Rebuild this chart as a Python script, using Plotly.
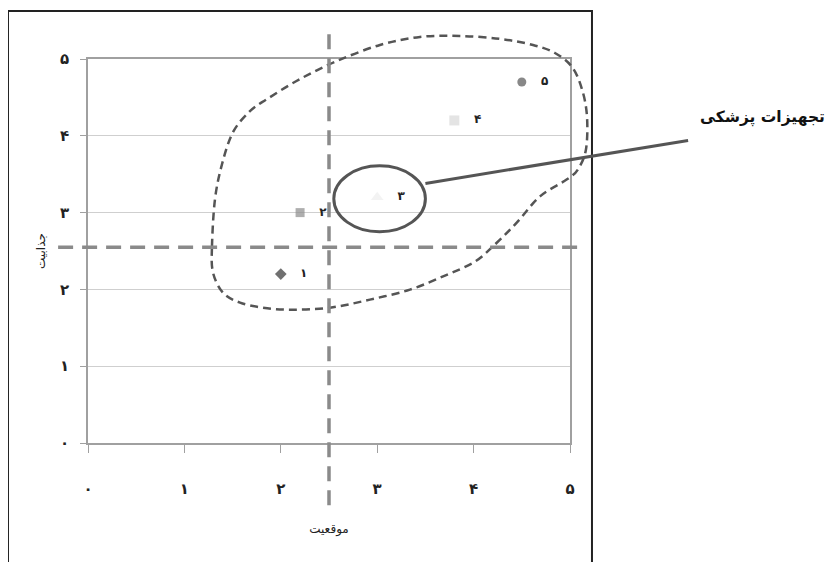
import plotly.graph_objects as go

# ---- data ----
labels = ["۱", "۲", "۳", "۴", "۵"]
pos_x = [2.0, 2.2, 3.0, 3.8, 4.5]          # موقعیت
attr_y = [2.2, 3.0, 3.2, 4.2, 4.7]         # جذابیت
marker_symbols = ["diamond", "square", "triangle-up", "square", "circle"]
marker_colors = ["#333333", "#8c8c8c", "#eeeeee", "#d9d9d9", "#555555"]
marker_sizes = [9, 9, 11, 10, 9]

tick_vals = [0, 1, 2, 3, 4, 5]
tick_text = ["۰", "۱", "۲", "۳", "۴", "۵"]

# cut-off lines (data units)
cut_x = 2.5
cut_y = 2.55

# outline of the attractive region (data units)
region_x = [1.286, 1.317, 1.390, 1.504, 1.680, 1.857, 2.199, 2.583, 3.029, 3.444,
            3.859, 4.274, 4.616, 4.844, 5.021, 5.124, 5.176, 5.166, 5.083, 4.969,
            4.689, 4.450, 4.243, 4.015, 3.703, 3.340, 2.925, 2.510, 2.095, 1.815,
            1.577, 1.400, 1.297]
region_y = [2.559, 3.172, 3.629, 4.047, 4.321, 4.478, 4.739, 4.974, 5.183, 5.287,
            5.300, 5.261, 5.183, 5.078, 4.896, 4.608, 4.256, 3.825, 3.564, 3.433,
            3.211, 2.872, 2.611, 2.363, 2.180, 1.997, 1.867, 1.762, 1.736, 1.762,
            1.828, 1.958, 2.219]

highlight_label = "تجهیزات پزشکی"
highlight_index = 2

XMAX, YMAX = 5.0, 5.0


def px(x):
    return x / XMAX


def py(y):
    return y / YMAX


def closed_spline_path(xs, ys):
    pts = [(px(a), py(b)) for a, b in zip(xs, ys)]
    n = len(pts)
    d = f"M {pts[0][0]:.4f},{pts[0][1]:.4f}"
    for i in range(n):
        p0 = pts[(i - 1) % n]
        p1 = pts[i]
        p2 = pts[(i + 1) % n]
        p3 = pts[(i + 2) % n]
        c1 = (p1[0] + (p2[0] - p0[0]) / 6, p1[1] + (p2[1] - p0[1]) / 6)
        c2 = (p2[0] - (p3[0] - p1[0]) / 6, p2[1] - (p3[1] - p1[1]) / 6)
        d += f" C {c1[0]:.4f},{c1[1]:.4f} {c2[0]:.4f},{c2[1]:.4f} {p2[0]:.4f},{p2[1]:.4f}"
    return d + " Z"


fig = go.Figure()

fig.add_trace(go.Scatter(
    x=pos_x, y=attr_y,
    mode="markers+text",
    text=["\u00a0\u00a0\u00a0" + t for t in labels],
    textposition="middle right",
    textfont=dict(family="DejaVu Sans", size=12, color="#222222", weight="bold"),
    marker=dict(symbol=marker_symbols, color=marker_colors, size=marker_sizes,
                line=dict(width=0)),
    cliponaxis=False,
    showlegend=False,
))

shapes = []
# outer frame
shapes.append(dict(type="rect", xref="paper", yref="paper",
                   x0=-0.166, x1=1.0456, y0=-0.4, y1=1.125,
                   line=dict(color="#222222", width=2), layer="below"))
# region outline
shapes.append(dict(type="path", xref="paper", yref="paper",
                   path=closed_spline_path(region_x, region_y),
                   line=dict(color="#555555", width=2.5, dash="8px,5px")))
# cut-off lines
shapes.append(dict(type="line", xref="paper", yref="paper",
                   x0=-0.062, x1=1.017, y0=py(cut_y), y1=py(cut_y),
                   line=dict(color="#8a8a8a", width=3.5, dash="15px,9px")))
shapes.append(dict(type="line", xref="paper", yref="paper",
                   x0=px(cut_x), x1=px(cut_x), y0=-0.162, y1=1.081,
                   line=dict(color="#8a8a8a", width=3.5, dash="15px,9px")))
# highlight ellipse around item 3
hx, hy = pos_x[highlight_index], attr_y[highlight_index]
shapes.append(dict(type="circle", xref="x", yref="y",
                   x0=hx - 0.45, x1=hx + 0.50, y0=hy - 0.45, y1=hy + 0.41,
                   line=dict(color="#555555", width=3)))
# leader line
shapes.append(dict(type="line", xref="paper", yref="paper",
                   x0=px(hx + 0.50), y0=py(hy + 0.18), x1=1.245, y1=0.788,
                   line=dict(color="#555555", width=3)))

fig.update_layout(
    width=835, height=562,
    margin=dict(l=80, r=273, t=51, b=127),
    paper_bgcolor="white", plot_bgcolor="white",
    shapes=shapes,
    annotations=[dict(xref="paper", yref="paper", x=1.40, y=0.847,
                      xanchor="center", yanchor="middle",
                      text=highlight_label, showarrow=False,
                      font=dict(family="DejaVu Sans", size=15.5, color="#111111", weight="bold"))],
    font=dict(family="DejaVu Sans", color="#222222"),
)

fig.update_xaxes(
    range=[0, XMAX], tickvals=tick_vals, ticktext=tick_text,
    showgrid=False, zeroline=False,
    showline=True, linecolor="#a0a0a0", linewidth=1.5, mirror=True,
    ticks="outside", ticklen=8, tickcolor="#a0a0a0",
    ticklabelstandoff=23,
    tickfont=dict(size=15, weight="bold", color="#222222"),
    title=dict(text="موقعیت", font=dict(size=12, color="#222222"), standoff=28),
)
fig.update_yaxes(
    range=[0, YMAX], tickvals=tick_vals, ticktext=tick_text,
    showgrid=True, gridcolor="#cfcfcf", gridwidth=1, zeroline=False,
    showline=True, linecolor="#a0a0a0", linewidth=1.5, mirror=True,
    ticks="outside", ticklen=6, tickcolor="#a0a0a0",
    ticklabelstandoff=8,
    tickfont=dict(size=15, weight="bold", color="#222222"),
    title=dict(text="جذابیت", font=dict(size=12, color="#222222"), standoff=12),
)

fig.write_html("out.html")
